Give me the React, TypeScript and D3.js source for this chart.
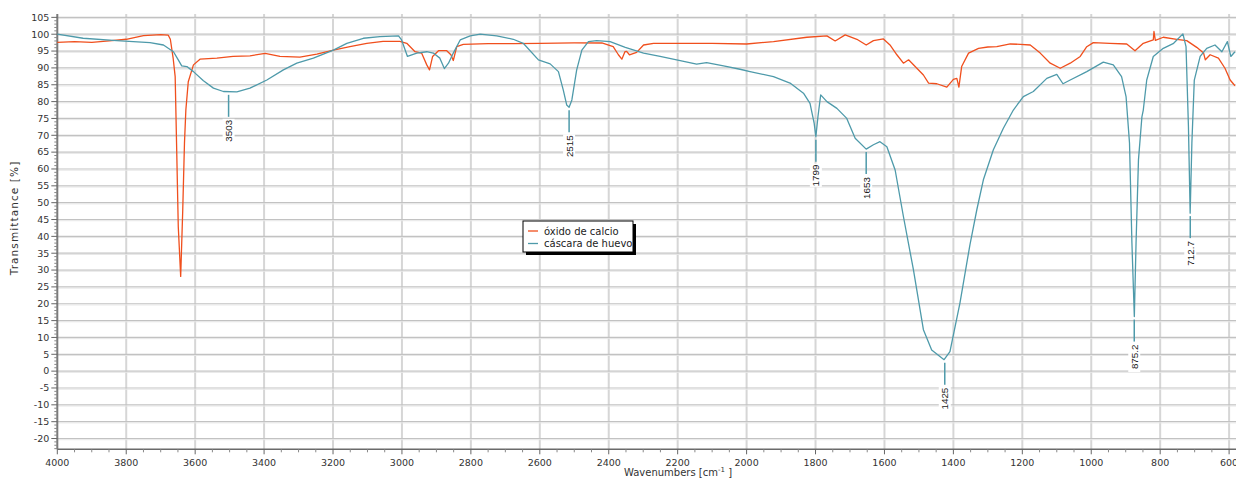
import React from 'react';
import * as d3 from 'd3';

// óxido de calcio
const oxWn = [4000, 3950, 3900, 3850, 3800, 3750, 3700, 3678, 3672, 3664, 3658, 3654, 3649, 3642, 3636, 3631, 3627, 3620, 3605, 3586, 3537, 3490, 3441, 3397, 3354, 3296, 3247, 3199, 3151, 3102, 3055, 3006, 2986, 2962, 2943, 2928, 2920, 2911, 2894, 2870, 2858, 2851, 2841, 2822, 2750, 2677, 2600, 2500, 2420, 2387, 2372, 2362, 2353, 2348, 2340, 2319, 2299, 2270, 2200, 2100, 2000, 1922, 1825, 1767, 1743, 1714, 1680, 1653, 1632, 1603, 1584, 1564, 1545, 1530, 1506, 1487, 1472, 1448, 1419, 1400, 1390, 1384, 1376, 1356, 1327, 1300, 1274, 1235, 1206, 1177, 1148, 1119, 1090, 1061, 1032, 1013, 994, 946, 897, 873, 849, 820, 818, 814, 791, 752, 723, 694, 674, 669, 655, 631, 612, 597, 583];
const oxT = [97.6, 97.8, 97.6, 98.0, 98.5, 99.6, 99.9, 99.7, 98.5, 93.0, 87.4, 67.7, 42.9, 28.1, 47.9, 67.7, 77.5, 85.9, 90.9, 92.6, 92.9, 93.4, 93.6, 94.3, 93.4, 93.2, 94.1, 95.3, 96.3, 97.3, 97.9, 97.9, 97.3, 94.8, 94.4, 90.9, 89.4, 93.4, 95.1, 95.1, 93.9, 92.2, 96.3, 97.0, 97.2, 97.2, 97.3, 97.4, 97.4, 96.3, 93.9, 92.6, 94.8, 94.9, 93.9, 94.6, 96.8, 97.3, 97.3, 97.3, 97.1, 97.8, 99.1, 99.5, 98.0, 99.8, 98.5, 96.8, 98.1, 98.6, 96.8, 93.9, 91.4, 92.4, 89.9, 87.9, 85.5, 85.3, 84.3, 86.6, 86.9, 84.3, 90.4, 94.4, 95.8, 96.2, 96.3, 97.1, 97.0, 96.8, 94.4, 91.4, 89.9, 91.4, 93.4, 96.3, 97.5, 97.3, 97.1, 95.1, 97.3, 98.3, 100.8, 98.2, 99.1, 98.5, 98.1, 96.1, 94.4, 92.4, 93.9, 92.9, 89.9, 86.4, 84.7];

// cáscara de huevo
const shellWn = [4000, 3925, 3828, 3731, 3692, 3663, 3649, 3639, 3624, 3605, 3576, 3547, 3518, 3479, 3441, 3392, 3344, 3305, 3257, 3199, 3160, 3112, 3064, 3010, 3001, 2984, 2957, 2928, 2909, 2890, 2877, 2865, 2851, 2831, 2802, 2773, 2725, 2677, 2648, 2604, 2570, 2546, 2532, 2522, 2515, 2507, 2493, 2478, 2459, 2435, 2396, 2352, 2299, 2251, 2203, 2145, 2116, 2067, 2019, 1990, 1922, 1874, 1835, 1816, 1804, 1799, 1793, 1785, 1767, 1738, 1710, 1685, 1653, 1632, 1613, 1593, 1569, 1545, 1516, 1487, 1463, 1427, 1410, 1381, 1352, 1332, 1313, 1284, 1255, 1226, 1197, 1168, 1129, 1100, 1082, 1061, 1013, 965, 936, 912, 899, 889, 882, 875, 870, 863, 853, 849, 839, 820, 791, 761, 734, 725, 718, 713, 708, 701, 684, 665, 641, 621, 605, 595, 583];
const shellT = [100.0, 98.8, 98.1, 97.5, 96.8, 94.8, 92.4, 90.6, 90.4, 88.9, 86.2, 84.0, 83.0, 82.9, 84.0, 86.4, 89.4, 91.4, 92.9, 95.3, 97.3, 98.8, 99.3, 99.5, 98.3, 93.4, 94.4, 94.8, 94.4, 92.9, 89.8, 91.4, 94.4, 98.3, 99.5, 100.0, 99.5, 98.5, 97.3, 92.4, 91.2, 88.9, 83.5, 79.0, 78.3, 80.5, 89.4, 95.3, 97.8, 98.1, 97.8, 96.1, 94.4, 93.4, 92.4, 91.1, 91.6, 90.6, 89.6, 88.9, 87.4, 85.5, 82.5, 79.5, 73.6, 69.6, 75.5, 82.0, 80.0, 78.0, 75.1, 69.1, 65.9, 67.2, 68.1, 66.6, 59.7, 45.9, 30.1, 12.3, 6.3, 3.4, 5.8, 20.2, 37.5, 47.9, 56.8, 65.7, 72.1, 77.5, 81.5, 83.0, 86.9, 88.1, 85.3, 86.4, 88.9, 91.7, 90.9, 87.4, 81.5, 67.7, 38.0, 16.2, 38.0, 62.7, 75.5, 77.5, 86.4, 93.4, 95.8, 97.3, 100.1, 96.3, 72.6, 46.9, 67.7, 86.4, 93.4, 95.8, 96.8, 94.8, 97.8, 93.4, 94.8];

const peakLabels = ['3503', '2515', '1799', '1653', '1425', '875.2', '712.7'];
const peakWn = [3503, 2515, 1799, 1653, 1425, 875.2, 712.7];
const peakT = [82.9, 78.3, 69.6, 65.9, 3.4, 16.2, 46.9];

const seriesNames = ['óxido de calcio', 'cáscara de huevo'];
const seriesColors = ['#f04f1d', '#4e9aaa'];

const W = 1236, H = 479;
const tickFont = 'DejaVu Sans, Verdana, sans-serif';

export default function App() {
  const x = d3.scaleLinear().domain([4000, 580]).range([57.3, 1236]);
  const y = d3.scaleLinear().domain([-23.2, 106]).range([449.3, 14]);
  const line = d3.line<[number, number]>()
    .x(d => x(d[0]))
    .y(d => y(d[1]));

  const ox: [number, number][] = oxWn.map((w, i) => [w, oxT[i]]);
  const shell: [number, number][] = shellWn.map((w, i) => [w, shellT[i]]);

  const xMajor = d3.range(4000, 599, -200);
  const xMinor = d3.range(4000, 581, -50).filter(v => v % 200 !== 0);
  const yMajor = d3.range(-20, 106, 5);
  const yMinor = d3.range(-23, 106, 1).filter(v => v % 5 !== 0);
  const x0 = x(4000), yb = y(-23.2);

  return (
    <svg width={W} height={H} style={{ position: 'absolute', left: 0, top: 0, background: '#fff' }}>
      {/* grid */}
      {xMajor.filter(v => v !== 4000).map(v => (
        <line key={'gx' + v} x1={x(v)} x2={x(v)} y1={14} y2={yb} stroke="#d6d6d6" strokeWidth={2} />
      ))}
      {yMajor.map(v => (
        <g key={'gy' + v}>
          <line x1={x0} x2={W} y1={y(v)} y2={y(v)} stroke="#c2c2c2" strokeWidth={1.2} />
          <line x1={x0} x2={W} y1={y(v) + 1.2} y2={y(v) + 1.2} stroke="#e6e6e6" strokeWidth={1} />
        </g>
      ))}

      {/* axes */}
      <line x1={x0} x2={x0} y1={14} y2={yb} stroke="#7a7a7a" strokeWidth={2} />
      <line x1={x0} x2={W} y1={yb} y2={yb} stroke="#6a6a6a" strokeWidth={1.5} />
      {yMajor.map(v => (
        <g key={'ty' + v}>
          <line x1={x0 - 6} x2={x0} y1={y(v)} y2={y(v)} stroke="#666" />
          <text x={x0 - 8} y={y(v)} dy="0.35em" textAnchor="end" fontSize={9.5} fontFamily={tickFont} fill="#333">{v}</text>
        </g>
      ))}
      {yMinor.map(v => (
        <line key={'my' + v} x1={x0 - 3} x2={x0} y1={y(v)} y2={y(v)} stroke="#888" />
      ))}
      {xMajor.map(v => (
        <g key={'tx' + v}>
          <line x1={x(v)} x2={x(v)} y1={yb} y2={yb + 5} stroke="#666" />
          <text x={x(v)} y={466} textAnchor="middle" fontSize={9.5} fontFamily={tickFont} fill="#333">{v}</text>
        </g>
      ))}
      {xMinor.map(v => (
        <line key={'mx' + v} x1={x(v)} x2={x(v)} y1={yb} y2={yb + 3} stroke="#888" />
      ))}

      <text transform={`translate(18,218) rotate(-90)`} textAnchor="middle" fontSize={10.5} letterSpacing={1.1} fontFamily={tickFont} fill="#333">Transmittance [%]</text>
      <text x={678} y={476} textAnchor="middle" fontSize={10} fontFamily={tickFont} fill="#333">
        Wavenumbers [cm<tspan dy={-4} fontSize={7}>-1</tspan><tspan dy={4}> ]</tspan>
      </text>

      {/* spectra */}
      <path d={line(ox) ?? ''} fill="none" stroke={seriesColors[0]} strokeWidth={1.3} strokeLinejoin="round" />
      <path d={line(shell) ?? ''} fill="none" stroke={seriesColors[1]} strokeWidth={1.3} strokeLinejoin="round" />

      {/* peak labels */}
      {peakWn.map((w, i) => {
        const px = x(w), py = y(peakT[i]);
        const ty = py + 28;
        const tw = peakLabels[i].length * 5.3 + 2;
        return (
          <g key={'pk' + i}>
            <line x1={px} x2={px} y1={py + 3} y2={py + 25} stroke={seriesColors[1]} strokeWidth={1.5} />
            <rect x={px - 6} y={ty - 1} width={12} height={tw} fill="#fff" />
            <text transform={`translate(${px},${ty}) rotate(-90)`} textAnchor="end" dy="0.35em" fontSize={9.8} fontFamily="Liberation Sans, Arial, sans-serif" fill="#222">{peakLabels[i]}</text>
          </g>
        );
      })}

      {/* legend */}
      <rect x={526} y={224} width={110} height={31} fill="#000" />
      <rect x={523} y={221} width={110} height={31} fill="#fff" stroke="#000" strokeWidth={1} />
      {seriesNames.map((n, i) => (
        <g key={'lg' + i}>
          <line x1={528} x2={538} y1={231 + i * 12.5} y2={231 + i * 12.5} stroke={seriesColors[i]} strokeWidth={1.3} />
          <text x={544} y={231 + i * 12.5} dy="0.35em" fontSize={10} fontFamily={tickFont} fill="#222">{n}</text>
        </g>
      ))}
    </svg>
  );
}
